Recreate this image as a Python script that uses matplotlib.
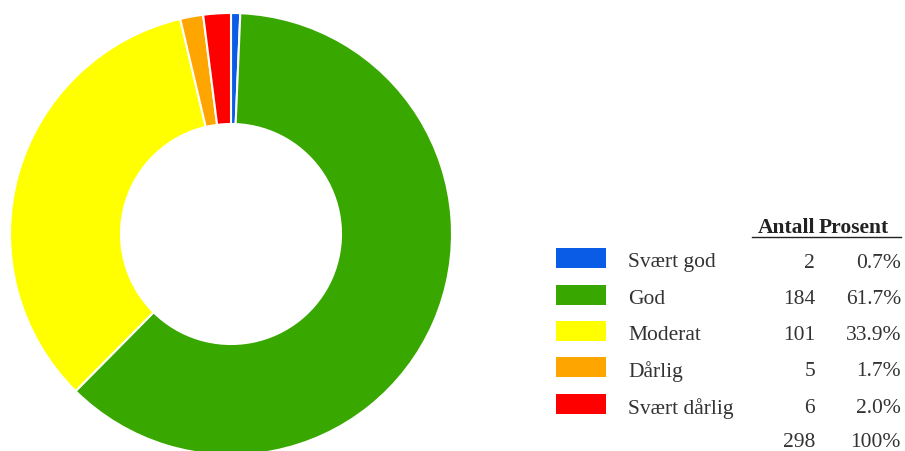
import matplotlib.pyplot as plt
from matplotlib.patches import Rectangle

labels = ['Svært god', 'God', 'Moderat', 'Dårlig', 'Svært dårlig']
counts = [2, 184, 101, 5, 6]
percents = ['0.7%', '61.7%', '33.9%', '1.7%', '2.0%']
total_label = '298'
total_pct = '100%'
colors = ['#0a5be6', '#38a800', '#ffff00', '#ffa500', '#ff0000']

W, H = 905, 452
fig = plt.figure(figsize=(W / 100, H / 100), dpi=100)
ax = fig.add_axes([0, 0, 1, 1])

# donut, drawn in pixel units (y measured from the bottom)
ax.pie(counts, colors=colors, startangle=90, counterclock=False,
       center=(231, H - 235), radius=221,
       wedgeprops=dict(width=111, edgecolor='white', linewidth=1.5))
ax.set_xlim(0, W)
ax.set_ylim(0, H)
ax.set_aspect('equal')
ax.axis('off')

serif = 'Liberation Serif'
fs = 15.5
txt = '#333333'
# table header
ax.text(815, H - 228, 'Antall', ha='right', va='center', fontsize=fs,
        fontweight='bold', family=serif, color='#222222')
ax.text(819, H - 228, 'Prosent', ha='left', va='center', fontsize=fs,
        fontweight='bold', family=serif, color='#222222')
ax.plot([752, 901], [H - 238, H - 238], color='#222222', lw=1)

row_y = [259, 296, 332, 368, 405]
for y, lab, n, p, c in zip(row_y, labels, counts, percents, colors):
    ax.add_patch(Rectangle((556, H - y - 10), 50, 20, facecolor=c, edgecolor='none'))
    ax.text(628, H - y - 4, lab, ha='left', va='center', fontsize=fs, family=serif, color=txt)
    ax.text(815, H - y - 4, str(n), ha='right', va='center', fontsize=fs, family=serif, color=txt)
    ax.text(901, H - y - 4, p, ha='right', va='center', fontsize=fs, family=serif, color=txt)

ax.text(815, H - 443, total_label, ha='right', va='center', fontsize=fs, family=serif, color=txt)
ax.text(901, H - 443, total_pct, ha='right', va='center', fontsize=fs, family=serif, color=txt)

fig.savefig('out.png', dpi=100)
